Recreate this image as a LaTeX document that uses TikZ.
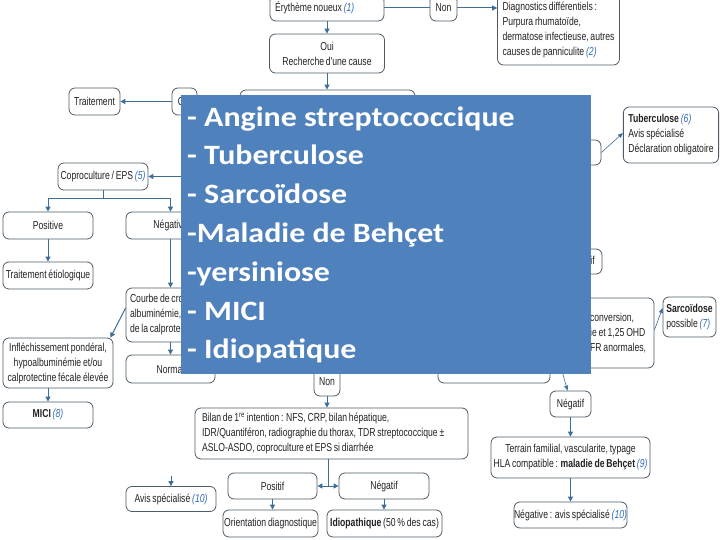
\documentclass[tikz,border=0pt]{standalone}
\usepackage{fontspec}
\setmainfont{Liberation Sans}
\newfontfamily\nar[FakeStretch=0.75,WordSpace=0.75]{Liberation Sans}
\newfontfamily\ovfont[FakeStretch=1.14]{Carlito}
\usetikzlibrary{arrows.meta}
\definecolor{lnblue}{HTML}{3D6E99}
\definecolor{bxgray}{HTML}{4F5B66}
\definecolor{refblue}{HTML}{2F6DB5}
\definecolor{ovblue}{HTML}{4F81BD}
\definecolor{txtc}{HTML}{222222}
\newcommand\rf[1]{{\color{refblue}\itshape #1}}
\tikzset{
  box/.style={draw=bxgray, line width=0.8pt, rounded corners=6pt, fill=white, text=txtc,
    font=\nar\fontsize{11.5}{15}\selectfont, inner sep=0pt, align=center},
  lbox/.style={box, align=flush left, inner xsep=5pt},
  conn/.style={draw=lnblue, line width=1pt},
  arr/.style={conn, -{Triangle[length=5pt,width=5pt]}},
  dblarr/.style={conn, {Triangle[length=5pt,width=5pt]}-{Triangle[length=5pt,width=5pt]}},
  thinarr/.style={draw=lnblue, line width=0.6pt, -{Triangle[length=5pt,width=4pt]}}
}
\begin{document}
\begin{tikzpicture}[x=1pt,y=-1pt]
\useasboundingbox (0,0) rectangle (720,540);
\fill[white] (0,0) rectangle (720,540);

% top
\node[lbox, text width=104pt, minimum height=26pt] (ery) at (327,8) {Érythème noueux \rf{(1)}};
\node[box, minimum width=27pt, minimum height=26pt] (non1) at (443.5,8) {Non};
\node[lbox, minimum width=117pt, minimum height=71pt] (diag) at (558.5,29.5)
  {Diagnostics différentiels :\\Purpura rhumatoïde,\\dermatose infectieuse, autres\\causes de panniculite \rf{(2)}};
\node[box, minimum width=115pt, minimum height=39pt] (oui) at (327,53.5) {Oui\\Recherche d'une cause};
\node[box, minimum width=175pt, minimum height=60pt] (cause) at (327.5,120) {};
\node[box, minimum width=25pt, minimum height=27pt] (oui2) at (184.5,101.5) {Oui};
\node[box, minimum width=51pt, minimum height=27pt] (trait) at (94.5,101.5) {Traitement};

% left branch
\node[box, minimum width=90pt, minimum height=27pt] (copro) at (103,176.5) {Coproculture / EPS \rf{(5)}};
\node[box, minimum width=90pt, minimum height=27pt] (pos1) at (48,225.5) {Positive};
\node[box, minimum width=89pt, minimum height=27pt] (neg1) at (170.5,225.5) {Négative};
\node[box, minimum width=90pt, minimum height=27pt] (etio) at (48,275.5) {Traitement étiologique};
\node[lbox, text width=134pt, inner xsep=4pt, minimum height=54pt] (courbe) at (197,315)
  {Courbe de croissance, poids,\\albuminémie, dosage\\de la calprotectine fécale};
\node[box, minimum width=89pt, minimum height=28pt] (normal) at (170.5,369) {Normal};
\node[box, minimum width=110pt, minimum height=50pt] (infl) at (58,363)
  {Infléchissement pondéral,\\hypoalbuminémie et/ou\\calprotectine fécale élevée};
\node[box, minimum width=90pt, minimum height=26pt] (mici) at (48,415) {\textbf{MICI} \rf{(8)}};

% bottom centre
\node[box, minimum width=26pt, minimum height=28pt] (non2) at (327,382) {Non};
\node[lbox, text width=259pt, inner xsep=7pt, minimum height=51pt] (bilan) at (331.5,433.5)
  {Bilan de 1\textsuperscript{re} intention : NFS, CRP, bilan hépatique,\\IDR/Quantiféron, radiographie du thorax, TDR streptococcique ±\\ASLO-ASDO, coproculture et EPS si diarrhée};
\node[box, minimum width=89pt, minimum height=26pt] (positif) at (272.5,486) {Positif};
\node[box, minimum width=90pt, minimum height=26pt] (negatif) at (384,486) {Négatif};
\node[box, minimum width=95pt, minimum height=27pt] (orient) at (270.5,523.5) {Orientation diagnostique};
\node[box, minimum width=115pt, minimum height=27pt] (idio) at (384.5,523.5) {\textbf{Idiopathique} (50 \% des cas)};
\node[box, minimum width=90pt, minimum height=25pt] (avis) at (171,499) {Avis spécialisé \rf{(10)}};

% right branch
\node[box, minimum width=46pt, minimum height=25pt] (rf1) at (578,152.5) {Positif};
\node[lbox, minimum width=90pt, minimum height=56pt] (tuber) at (671,135)
  {\textbf{Tuberculose} \rf{(6)}\\Avis spécialisé\\Déclaration obligatoire};
\node[box, minimum width=42pt, minimum height=25pt] (rf2) at (581,261.5) {Négatif};
\node[lbox, minimum width=99pt, minimum height=70pt] (econv) at (604.5,333)
  {Virage/conversion,\\calcémie et 1,25 OHD\\radio/EFR anormales,};
\node[box, minimum width=112pt, minimum height=33pt] (hid) at (494,366.5) {};
\node[lbox, minimum width=53pt, minimum height=40pt, inner xsep=3pt] (sarco) at (689.5,317)
  {\textbf{Sarcoïdose}\\possible \rf{(7)}};
\node[box, minimum width=41pt, minimum height=26pt] (negatif2) at (570.5,404) {Négatif};
\node[box, minimum width=159pt, minimum height=41pt] (terrain) at (570.5,457.5)
  {Terrain familial, vascularite, typage\\HLA compatible : \textbf{maladie de Behçet} \rf{(9)}};
\node[box, minimum width=113pt, minimum height=26pt] (negavis) at (570.5,515) {Négative : avis spécialisé \rf{(10)}};

% connectors
\draw[conn] (ery.east) -- (non1.west);
\draw[arr] (non1.east) -- (non1.east -| diag.west);
\draw[arr] (ery.south) -- (oui.north);
\draw[arr] (oui.south) -- (oui.south |- cause.north);
\draw[arr] (oui2.west) -- (trait.east);
\coordinate (coprosrc) at (200,176.5);
\draw[arr] (coprosrc) -- (copro.east);
\draw[arr] (copro.south) -- ++(0,8) -| (pos1.north);
\draw[arr] (copro.south) -- ++(0,8) -| (neg1.north);
\draw[arr] (pos1.south) -- (etio.north);
\draw[arr] (neg1.south) -- (neg1.south |- courbe.north);
\draw[arr] (courbe.south -| normal.north) -- (normal.north);
\draw[arr] ([yshift=7pt]courbe.west) -- ([xshift=-3pt]infl.north east);
\draw[arr] (infl.south -| mici.north) -- (mici.north);
\draw[arr] (non2.south) -- (non2.south |- bilan.north);
\coordinate (bj) at (328,486);
\draw[conn] (bilan.south -| bj) -- (bj);
\draw[dblarr] (positif.east) -- (negatif.west);
\draw[arr] (positif.south) -- (positif.south |- orient.north);
\draw[arr] (negatif.south) -- (negatif.south |- idio.north);
\coordinate (avsrc) at (171,476);
\draw[arr] (avsrc) -- (avis.north);
\draw[thinarr] (rf1.east) -- ([yshift=2pt]tuber.west);
\draw[thinarr] ([yshift=3pt]econv.east) -- ([yshift=9pt]sarco.west);
\coordinate (ngsrc) at (562,371);
\draw[thinarr] (ngsrc) -- ([xshift=-3pt]negatif2.north);
\draw[arr] (negatif2.south) -- (terrain.north);
\draw[arr] (terrain.south) -- (negavis.north);

% overlay
\node[fill=ovblue, inner sep=0pt, minimum width=410pt, minimum height=279pt] (overlay) at (386,234.5) {};
\node[anchor=base west, align=left, inner sep=0pt, text=white,
  font=\ovfont\bfseries\fontsize{28}{38.8}\selectfont] (ovtext) at (187,358.8)
  {- Angine streptococcique\\- Tuberculose\\- Sarcoïdose\\-Maladie de Behçet\\-yersiniose\\- MICI\\- Idiopatique};
\end{tikzpicture}
\end{document}
